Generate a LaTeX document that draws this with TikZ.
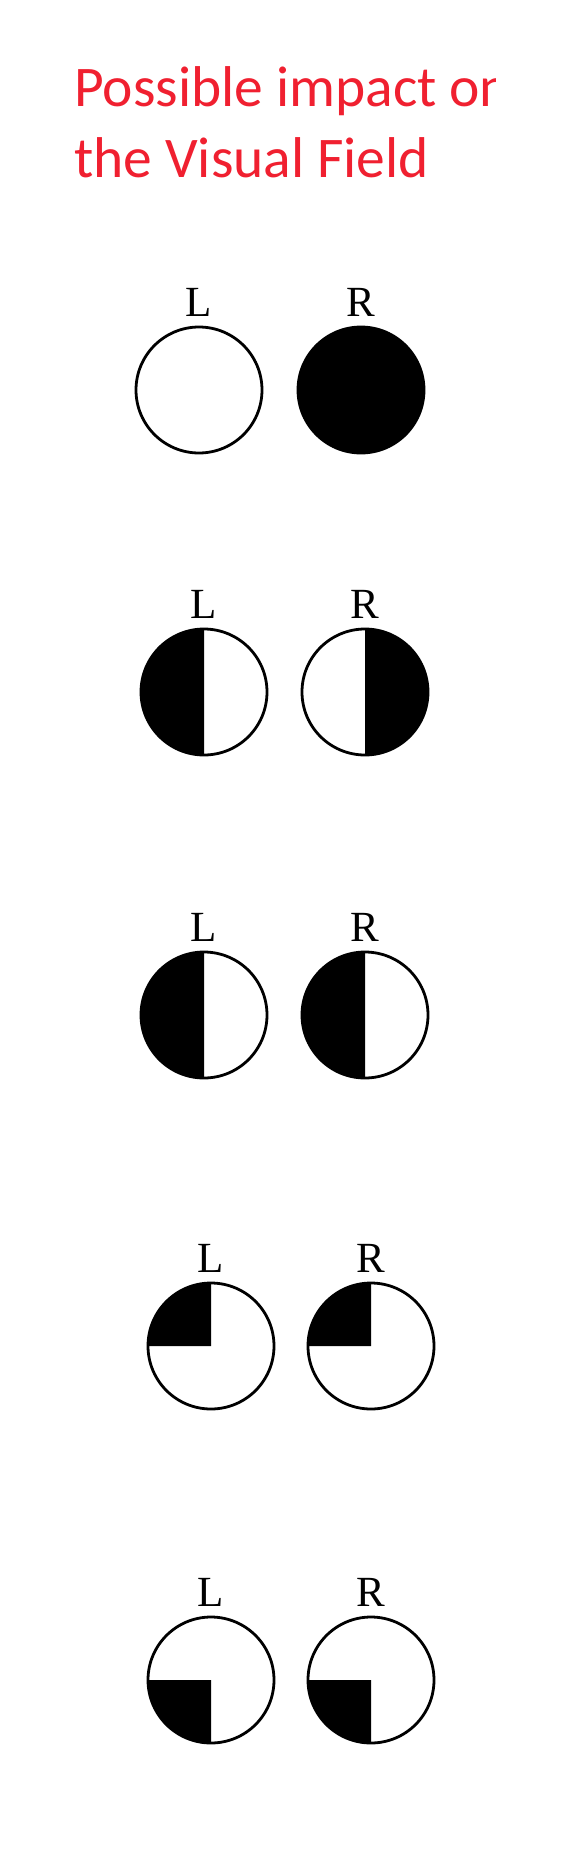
\documentclass[tikz,border=0pt]{standalone}
\usepackage{fontspec}
\newfontfamily\titlefont{Carlito}
\newfontfamily\labfont{Liberation Serif}
\definecolor{titlered}{RGB}{240,32,48}
\tikzset{
  eye/.style={circle, draw=black, line width=2.8pt, minimum size=126pt, inner sep=0pt, outer sep=0pt},
  lab/.style={anchor=base, inner sep=0pt, font=\labfont\fontsize{43}{43}\selectfont},
  ttl/.style={anchor=base west, inner sep=0pt, text=titlered, font=\titlefont\fontsize{57.5}{57.5}\selectfont},
}
\begin{document}
\begin{tikzpicture}[x=1pt, y=1pt]
\useasboundingbox (0,0) rectangle (568,-1876);
\fill[white] (0,0) rectangle (568,-1876);
% title
\begin{scope}
\clip (0,0) rectangle (495,-260);
\node[ttl] (t1) at (74,-106) {Possible impact on};
\node[ttl] (t2) at (74,-177) {the Visual Field};
\end{scope}
% centres
\coordinate (c1l) at (199,-390);  \coordinate (c1r) at (361,-390);
\coordinate (c2l) at (204,-692);  \coordinate (c2r) at (365,-692);
\coordinate (c3l) at (204,-1015); \coordinate (c3r) at (365,-1015);
\coordinate (c4l) at (211,-1346); \coordinate (c4r) at (371,-1346);
\coordinate (c5l) at (211,-1680); \coordinate (c5r) at (371,-1680);
% fills
\fill[black] (c1r) circle (63);
\fill[black] (c2l) ++(0,63) arc[start angle=90, end angle=270, radius=63] -- cycle;
\fill[black] (c2r) ++(0,63) arc[start angle=90, end angle=-90, radius=63] -- cycle;
\fill[black] (c3l) ++(0,63) arc[start angle=90, end angle=270, radius=63] -- cycle;
\fill[black] (c3r) ++(0,63) arc[start angle=90, end angle=270, radius=63] -- cycle;
\fill[black] (c4l) -- ++(0,63) arc[start angle=90, end angle=180, radius=63] -- cycle;
\fill[black] (c4r) -- ++(0,63) arc[start angle=90, end angle=180, radius=63] -- cycle;
\fill[black] (c5l) -- ++(-63,0) arc[start angle=180, end angle=270, radius=63] -- cycle;
\fill[black] (c5r) -- ++(-63,0) arc[start angle=180, end angle=270, radius=63] -- cycle;
% circles
\foreach \r in {1,...,5}{
  \node[eye] (e\r l) at (c\r l) {};
  \node[eye] (e\r r) at (c\r r) {};
  \node[lab] (L\r) at ([yshift=74pt]c\r l) {L};
  \node[lab] (R\r) at ([yshift=74pt]c\r r) {R};
}
\end{tikzpicture}
\end{document}
